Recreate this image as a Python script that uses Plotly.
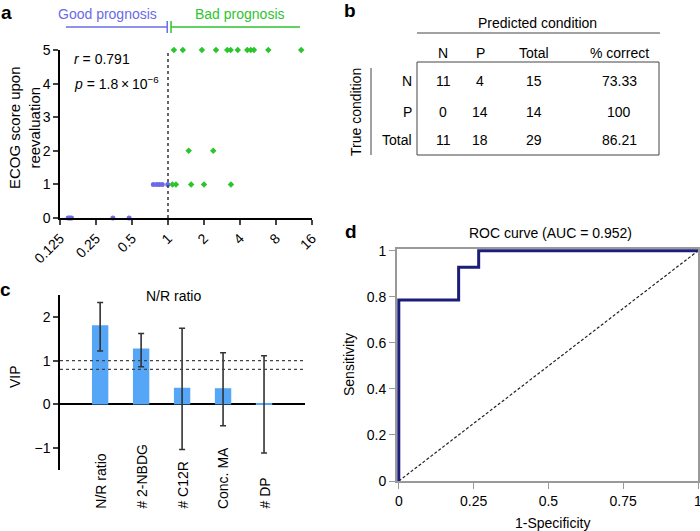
import math
import plotly.graph_objects as go

W, H = 700, 531
FONT = "Liberation Sans, Arial, sans-serif"

# ---- panel a: ECOG score vs N/R ratio ----
good_x = [0.146, 0.151, 0.156, 0.346, 0.473, 0.754, 0.805, 0.846, 0.896, 0.995]
good_y = [0, 0, 0, 0, 0, 1, 1, 1, 1, 1]
bad_x = [1.09, 1.165, 1.56, 2.0, 3.36, 1.49, 2.39,
         1.12, 1.33, 1.92, 2.52, 3.13, 3.34, 3.83, 4.6, 4.92, 5.23, 6.9, 13.0]
bad_y = [1, 1, 1, 1, 1, 2, 2, 5, 5, 5, 5, 5, 5, 5, 5, 5, 5, 5, 5]
a_ticks = [0.125, 0.25, 0.5, 1, 2, 4, 8, 16]
a_ticktext = ["0.125", "0.25", "0.5", "1", "2", "4", "8", "16"]

# ---- panel b: confusion table ----
b_cols = ["N", "P", "Total", "% correct"]
b_rows = ["N", "P", "Total"]
b_cells = [["11", "4", "15", "73.33"],
           ["0", "14", "14", "100"],
           ["11", "18", "29", "86.21"]]

# ---- panel c: VIP ----
vip_names = ["N/R ratio", "# 2-NBDG", "# C12R", "Conc. MA", "# DP"]
vip_vals = [1.81, 1.28, 0.38, 0.37, 0.03]
vip_hi = [2.33, 1.62, 1.74, 1.18, 1.11]
vip_lo = [1.22, 0.86, -1.03, -0.49, -1.11]

# ---- panel d: ROC ----
roc_fpr = [0, 0, 0.2, 0.2, 0.267, 0.267, 1]
roc_tpr = [0, 0.786, 0.786, 0.929, 0.929, 1, 1]


def px_x(p):
    return p / W


def px_y(p):
    return 1 - p / H


BLUE = "#6b6be8"
GREEN = "#2dc52d"
TXT = 14

fig = go.Figure()

fig.add_trace(go.Scatter(x=good_x, y=good_y, mode="markers", xaxis="x", yaxis="y",
                         marker=dict(color=BLUE, size=5, symbol="circle"),
                         cliponaxis=False, showlegend=False))
fig.add_trace(go.Scatter(x=bad_x, y=bad_y, mode="markers", xaxis="x", yaxis="y",
                         marker=dict(color=GREEN, size=5, symbol="diamond"),
                         cliponaxis=False, showlegend=False))

err_plus = [h - v for h, v in zip(vip_hi, vip_vals)]
err_minus = [v - l for l, v in zip(vip_lo, vip_vals)]
fig.add_trace(go.Bar(x=vip_names, y=vip_vals, xaxis="x2", yaxis="y2", width=0.4,
                     marker=dict(color="#55a6f6", line=dict(width=0)),
                     error_y=dict(type="data", symmetric=False, array=err_plus,
                                  arrayminus=err_minus, color="#333333",
                                  thickness=1.6, width=3),
                     showlegend=False))

fig.add_trace(go.Scatter(x=[0, 1], y=[0, 1], mode="lines", xaxis="x3", yaxis="y3",
                         line=dict(color="#222222", width=1.2, dash="3px,2px"),
                         showlegend=False))
fig.add_trace(go.Scatter(x=roc_fpr, y=roc_tpr, mode="lines", xaxis="x3", yaxis="y3",
                         line=dict(color="#1c1c7a", width=3), cliponaxis=False,
                         showlegend=False))

tick_font = dict(family=FONT, size=TXT, color="black")

fig.update_layout(
    width=W, height=H, margin=dict(l=0, r=0, t=0, b=0, autoexpand=False),
    paper_bgcolor="white", plot_bgcolor="white",
    font=dict(family=FONT, size=TXT, color="black"),
    xaxis=dict(domain=[px_x(60), px_x(312)], type="log",
               range=[math.log10(0.125), math.log10(16)],
               tickvals=a_ticks, ticktext=a_ticktext, tickangle=-45,
               tickfont=tick_font,
               ticks="outside", ticklen=5, tickwidth=1.5, showline=True,
               linecolor="black", linewidth=1.5, showgrid=False, zeroline=False,
               automargin=False, anchor="y"),
    yaxis=dict(domain=[px_y(218), px_y(50)], range=[0, 5], dtick=1,
               tickfont=tick_font,
               ticks="outside", ticklen=5, tickwidth=1.5, showline=True,
               linecolor="black", linewidth=1.5, showgrid=False, zeroline=False,
               automargin=False, anchor="x"),
    xaxis2=dict(domain=[px_x(60), px_x(305)], range=[-0.98, 5.0],
                showticklabels=False, showline=False, showgrid=False,
                zeroline=False, automargin=False, anchor="y2"),
    yaxis2=dict(domain=[px_y(470), px_y(295)], range=[-1.5, 2.5],
                tickvals=[-1, 0, 1, 2], ticktext=["\u22121", "0", "1", "2"],
                tickfont=tick_font,
                ticks="outside", ticklen=5, tickwidth=1.5, showline=True,
                linecolor="black", linewidth=1.5, showgrid=False,
                zeroline=True, zerolinecolor="black", zerolinewidth=1.5,
                automargin=False, anchor="x2"),
    xaxis3=dict(domain=[px_x(397), px_x(698)], range=[-0.006, 1.0],
                tickvals=[0, 0.25, 0.5, 0.75, 1],
                ticktext=["0", "0.25", "0.5", "0.75", "1"],
                tickfont=tick_font, ticklabeloverflow="allow",
                ticks="outside", ticklen=6, tickwidth=1, tickcolor="#999999",
                showline=True, mirror=True, linecolor="#999999", linewidth=2,
                showgrid=False, zeroline=False, automargin=False, anchor="y3"),
    yaxis3=dict(domain=[px_y(481), px_y(249)], range=[0, 1.008],
                tickvals=[0, 0.2, 0.4, 0.6, 0.8, 1],
                ticktext=["0", "0.2", "0.4", "0.6", "0.8", "1"],
                tickfont=tick_font,
                ticks="outside", ticklen=6, tickwidth=1, tickcolor="#999999",
                showline=True, mirror=True, linecolor="#999999", linewidth=2,
                showgrid=False, zeroline=False, automargin=False, anchor="x3"),
)

shapes = []
ann = []


def note(text, x, y, **kw):
    # text placed at pixel position (x, y) measured from the top-left corner
    d = dict(text=text, xref="paper", yref="paper", x=px_x(x), y=px_y(y),
             xanchor="center", yanchor="middle", showarrow=False,
             font=dict(size=TXT))
    d.update(kw)
    ann.append(d)


# panel a decorations
shapes.append(dict(type="line", xref="x", yref="y", x0=1, x1=1, y0=0, y1=5.1,
                   line=dict(color="#333333", width=1.5, dash="dot")))
shapes.append(dict(type="line", xref="x", yref="paper", x0=0.14, x1=0.985,
                   y0=px_y(27), y1=px_y(27), line=dict(color=BLUE, width=1.5)))
shapes.append(dict(type="line", xref="x", yref="paper", x0=0.985, x1=0.985,
                   y0=px_y(21), y1=px_y(33), line=dict(color=BLUE, width=1.5)))
shapes.append(dict(type="line", xref="x", yref="paper", x0=1.06, x1=12.7,
                   y0=px_y(27), y1=px_y(27), line=dict(color=GREEN, width=1.5)))
shapes.append(dict(type="line", xref="x", yref="paper", x0=1.06, x1=1.06,
                   y0=px_y(21), y1=px_y(33), line=dict(color=GREEN, width=1.5)))
note("Good prognosis", 107, 14, font=dict(color=BLUE, size=TXT))
note("Bad prognosis", 240, 14, font=dict(color=GREEN, size=TXT))
note("<i>r</i> = 0.791", 72, 59, xanchor="left")
note("<i>p</i> = 1.8\u2009\u00d7\u200910<sup>\u22126</sup>", 72, 83, xanchor="left")
note("ECOG score upon<br>reevaluation", 25, 128, textangle=-90,
     font=dict(size=15))

# panel b table
shapes.append(dict(type="line", xref="paper", yref="paper", x0=px_x(417), x1=px_x(660),
                   y0=px_y(33), y1=px_y(33), line=dict(color="#444444", width=1)))
shapes.append(dict(type="rect", xref="paper", yref="paper", x0=px_x(417), x1=px_x(659),
                   y0=px_y(62), y1=px_y(155), line=dict(color="#444444", width=1)))
shapes.append(dict(type="line", xref="paper", yref="paper", x0=px_x(371), x1=px_x(371),
                   y0=px_y(68), y1=px_y(155), line=dict(color="#444444", width=1)))
note("Predicted condition", 537, 23)
note("True condition", 356, 112, textangle=-90)
col_x = [443, 480, 534, 619]
row_y = [81, 112, 140]
for cx, name in zip(col_x, b_cols):
    note(name, cx, 53)
for ry, name, row in zip(row_y, b_rows, b_cells):
    note(name, 414, ry, xanchor="right")
    for cx, val in zip(col_x, row):
        note(val, cx, ry)

# panel c decorations
for lvl in (1.0, 0.8):
    shapes.append(dict(type="line", xref="x2", yref="y2", x0=-0.98, x1=5.0,
                       y0=lvl, y1=lvl, line=dict(color="#444444", width=1.2, dash="dot")))
note("N/R ratio", 173, 296)
note("VIP", 15, 377, textangle=-90)
for name in vip_names:
    ann.append(dict(text=name, xref="x2", yref="paper", x=name, y=px_y(511),
                    xanchor="center", yanchor="bottom", textangle=-90,
                    showarrow=False, font=dict(size=TXT)))

# panel d decorations
note("ROC curve (AUC = 0.952)", 550, 233)
note("1-Specificity", 552, 523)
note("Sensitivity", 349, 365, textangle=-90)

# panel letters
for letter, lx, ly in [("a", 6, 12), ("b", 350, 11), ("c", 5, 289), ("d", 351, 231)]:
    note("<b>%s</b>" % letter, lx, ly, font=dict(size=19))

fig.update_layout(shapes=shapes, annotations=ann)

# the page body has a default 8px margin; drop it so the figure sits at the corner
fig.write_html("out.html", config={"displayModeBar": False},
               post_script="document.body.style.margin='0';")
